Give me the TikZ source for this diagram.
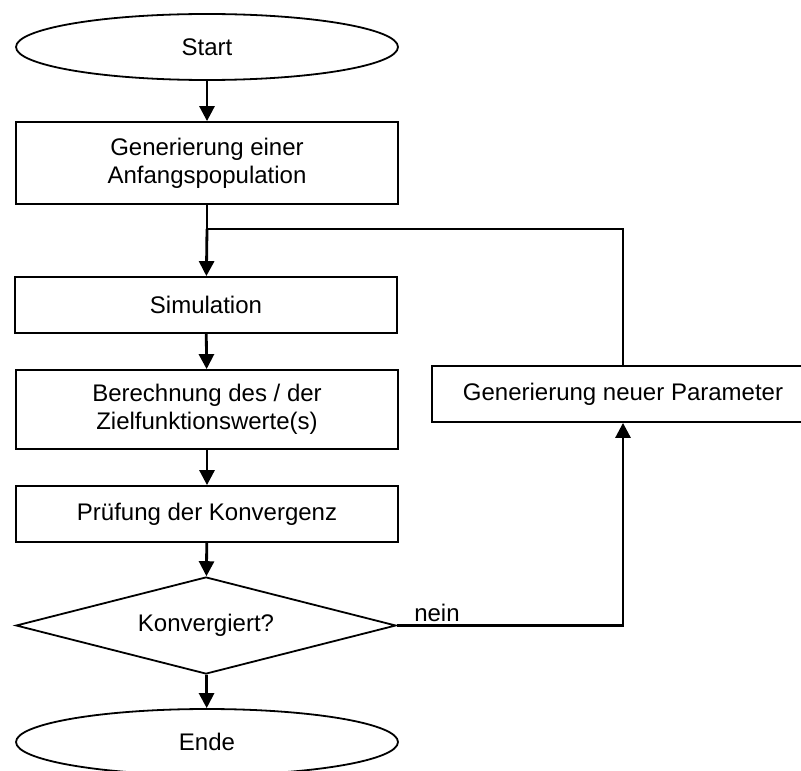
\documentclass[tikz,border=0pt]{standalone}
\usepackage{fontspec}
\setmainfont{Liberation Sans}
\usetikzlibrary{arrows.meta,shapes.geometric}
\tikzset{bloc/.style={draw,line width=0.9pt,align=center,minimum width=191pt,minimum height=28pt,inner sep=0pt,font=\fontsize{12}{13.8}\selectfont},termin/.style={bloc,ellipse,minimum height=33pt},entscheid/.style={bloc,diamond,aspect=3.9,minimum width=190pt,minimum height=48.5pt},flux/.style={-{Triangle[width=7.5pt,length=7.5pt]},line width=1.4pt},link/.style={line width=1pt},note/.style={font=\fontsize{12}{13.8}\selectfont,inner sep=1pt}}

\begin{document}
\begin{tikzpicture}[x=0.5pt,y=-0.5pt]
\useasboundingbox (0,0) rectangle (801,770);
\node[termin] (start) at (207,47) {Start};
\node[bloc,minimum height=41pt] (init) at (207,163) {Generierung einer\\Anfangspopulation};
\node[bloc] (sim) at (206,305) {Simulation};
\node[bloc,minimum height=39.5pt] (ziel) at (207,409.5) {Berechnung des / der\\Zielfunktionswerte(s)};
\node[bloc] (pruef) at (207,514) {Prüfung der Konvergenz};
\node[entscheid] (konv) at (206,625.5) {Konvergiert?};
\node[termin] (ende) at (207,742) {Ende};
\node[bloc] (param) at (623,394) {Generierung neuer Parameter};
\coordinate (junc) at (207,229);
\draw[flux] (start)--(init);
\draw[link] (init)--(junc);
\draw[flux] (junc)--(sim);
\draw[flux] (sim)--(ziel);
\draw[flux] (ziel)--(pruef);
\draw[flux] (pruef)--(konv);
\draw[flux] (konv)--(ende);
\draw[flux] (konv.east) -| node[pos=0,anchor=south west,note,xshift=7pt]{nein} (param.south);
\draw[link] (param.north) |- (junc);
\end{tikzpicture}
\end{document}
